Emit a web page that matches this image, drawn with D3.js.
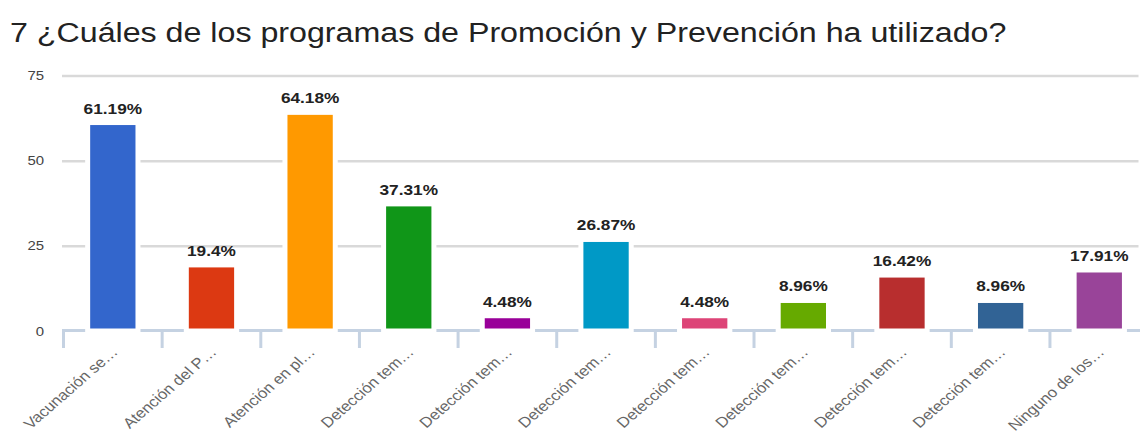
<!DOCTYPE html>
<html>
<head>
<meta charset="utf-8">
<script src="https://cdn.jsdelivr.net/npm/d3@7"></script>
<style>
  body { margin: 0; background: #fff; }
  svg { display: block; font-family: "Liberation Sans", Arial, sans-serif; }
</style>
</head>
<body>
<svg width="1140" height="442"></svg>
<script>
// data
var title = "7 ¿Cuáles de los programas de Promoción y Prevención ha utilizado?";
var categories = ["Vacunación se…", "Atención del P…", "Atención en pl…", "Detección tem…", "Detección tem…",
                  "Detección tem…", "Detección tem…", "Detección tem…", "Detección tem…", "Detección tem…", "Ninguno de los…"];
var values = [61.19, 19.4, 64.18, 37.31, 4.48, 26.87, 4.48, 8.96, 16.42, 8.96, 17.91];
var valueLabels = ["61.19%", "19.4%", "64.18%", "37.31%", "4.48%", "26.87%", "4.48%", "8.96%", "16.42%", "8.96%", "17.91%"];
var yTicks = [0, 25, 50, 75];
var colours = ["#3366cc", "#dc3912", "#ff9900", "#109618", "#990099", "#0099c6",
               "#dd4477", "#66aa00", "#b82e2e", "#316395", "#994499"];

var svg = d3.select("svg"),
    width = +svg.attr("width"),
    height = +svg.attr("height");

var left = 63.5, right = 1148.6;
var sx = 1.15;   // the picture is a bit stretched sideways

// scales
var x = d3.scaleBand()
    .domain(d3.range(categories.length))
    .range([left, right])
    .paddingInner(0.49)
    .paddingOuter(0.245);

var y = d3.scaleLinear()
    .domain([0, 75])
    .range([331, 75.5]);

// title
svg.append("text")
    .attr("transform", "translate(10,42) scale(" + sx + ",1)")
    .style("font-size", "28px")
    .style("fill", "#222")
    .text(title);

// gridlines
var grid = svg.append("g")
    .attr("transform", "translate(" + (left - 1.5) + ",0)")
    .call(d3.axisLeft(y).tickValues(yTicks.slice(1)).tickSize(-(width - left)).tickFormat(""));
grid.select(".domain").remove();
grid.selectAll("line").attr("stroke", "#d9d9d9").attr("stroke-width", 2.5);

// y labels
svg.selectAll(".ylab")
    .data(yTicks)
    .enter()
    .append("text")
        .attr("class", "ylab")
        .attr("transform", function(d) { return "translate(44," + y(d) + ") scale(" + sx + ",1)"; })
        .attr("dy", "0.35em")
        .attr("text-anchor", "end")
        .style("font-size", "13px")
        .style("fill", "#444")
        .text(function(d) { return d; });

// x axis line + ticks
var axisCol = "#c5d2e2";
svg.append("line")
    .attr("x1", left - 1.5)
    .attr("x2", width)
    .attr("y1", y(0) - 0.5)
    .attr("y2", y(0) - 0.5)
    .attr("stroke", axisCol)
    .attr("stroke-width", 3);

var bounds = d3.range(categories.length + 1).map(function(i) { return left + i * x.step(); });
svg.selectAll(".xtick")
    .data(bounds)
    .enter()
    .append("line")
        .attr("class", "xtick")
        .attr("x1", function(d) { return d; })
        .attr("x2", function(d) { return d; })
        .attr("y1", y(0) + 1)
        .attr("y2", y(0) + 17)
        .attr("stroke", axisCol)
        .attr("stroke-width", 3);

// bars
svg.selectAll(".bar")
    .data(values)
    .enter()
    .append("rect")
        .attr("class", "bar")
        .attr("x", function(d, i) { return x(i); })
        .attr("width", x.bandwidth())
        .attr("y", function(d) { return y(d); })
        .attr("height", function(d) { return y(0) - y(d); })
        .attr("fill", function(d, i) { return colours[i]; })
        .attr("stroke", "#fff")
        .attr("stroke-width", 5);

// value labels
svg.selectAll(".vlab")
    .data(values)
    .enter()
    .append("text")
        .attr("class", "vlab")
        .attr("transform", function(d, i) {
            return "translate(" + (x(i) + x.bandwidth() / 2) + "," + (y(d) - 9) + ") scale(" + sx + ",1)";
        })
        .attr("text-anchor", "middle")
        .style("font-size", "15px")
        .style("font-weight", "bold")
        .style("fill", "#222")
        .text(function(d, i) { return valueLabels[i]; });

// category labels
svg.selectAll(".xlab")
    .data(categories)
    .enter()
    .append("text")
        .attr("class", "xlab")
        .attr("transform", function(d, i) {
            return "translate(" + (x(i) + x.bandwidth() / 2 + 6) + ",353) scale(" + sx + ",1) rotate(-45)";
        })
        .attr("text-anchor", "end")
        .style("font-size", "14.5px")
        .style("fill", "#666")
        .text(function(d) { return d; });
</script>
</body>
</html>
